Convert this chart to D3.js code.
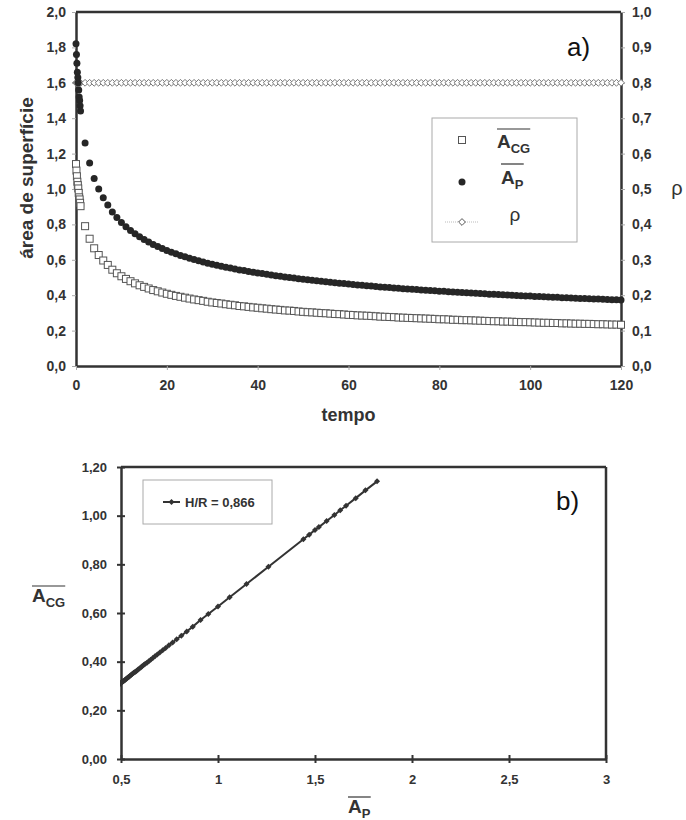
<!DOCTYPE html>
<html>
<head>
<meta charset="utf-8">
<script src="https://cdn.jsdelivr.net/npm/d3@7"></script>
<style>
  html, body { margin: 0; padding: 0; background: #fff; }
  svg { display: block; font-family: "Liberation Sans", Arial, sans-serif; }
</style>
</head>
<body>
<div id="chart"></div>
<script>
// tempo (time) values of the sampled points
const tempo = [0, 0.1, 0.2, 0.3, 0.4, 0.5, 0.6, 0.7, 0.8, 0.9, 1,
  2, 3, 4, 5, 6, 7, 8, 9, 10, 11, 12, 13, 14, 15, 16, 17, 18, 19, 20,
  21, 22, 23, 24, 25, 26, 27, 28, 29, 30, 31, 32, 33, 34, 35, 36, 37, 38, 39, 40,
  41, 42, 43, 44, 45, 46, 47, 48, 49, 50, 51, 52, 53, 54, 55, 56, 57, 58, 59, 60,
  61, 62, 63, 64, 65, 66, 67, 68, 69, 70, 71, 72, 73, 74, 75, 76, 77, 78, 79, 80,
  81, 82, 83, 84, 85, 86, 87, 88, 89, 90, 91, 92, 93, 94, 95, 96, 97, 98, 99, 100,
  101, 102, 103, 104, 105, 106, 107, 108, 109, 110, 111, 112, 113, 114, 115, 116, 117, 118, 119, 120];

// mean area A_P
const areaP = [1.82, 1.76, 1.71, 1.66, 1.63, 1.60, 1.56, 1.52, 1.50, 1.47, 1.44,
  1.26, 1.147, 1.06, 1.00, 0.95, 0.91, 0.870, 0.839, 0.811, 0.787, 0.766, 0.747, 0.730, 0.715, 0.700, 0.687, 0.675, 0.664, 0.653,
  0.643, 0.634, 0.625, 0.617, 0.609, 0.602, 0.595, 0.588, 0.581, 0.575, 0.569, 0.564, 0.558, 0.553, 0.548, 0.543, 0.539, 0.534, 0.530, 0.526,
  0.522, 0.518, 0.514, 0.510, 0.507, 0.503, 0.500, 0.497, 0.493, 0.490, 0.487, 0.484, 0.481, 0.479, 0.476, 0.473, 0.471, 0.468, 0.466, 0.463,
  0.461, 0.458, 0.456, 0.454, 0.452, 0.449, 0.447, 0.445, 0.443, 0.441, 0.439, 0.437, 0.435, 0.434, 0.432, 0.430, 0.428, 0.427, 0.425, 0.423,
  0.422, 0.420, 0.418, 0.417, 0.415, 0.414, 0.412, 0.411, 0.409, 0.408, 0.406, 0.405, 0.404, 0.402, 0.401, 0.400, 0.398, 0.397, 0.396, 0.395,
  0.393, 0.392, 0.391, 0.390, 0.389, 0.388, 0.386, 0.385, 0.384, 0.383, 0.382, 0.381, 0.380, 0.379, 0.378, 0.377, 0.376, 0.375, 0.374, 0.373];

// mean area A_CG
const areaCG = [1.141, 1.104, 1.072, 1.041, 1.022, 1.003, 0.978, 0.953, 0.941, 0.922, 0.903,
  0.790, 0.719, 0.665, 0.627, 0.596, 0.571, 0.544, 0.524, 0.507, 0.492, 0.479, 0.467, 0.456, 0.447, 0.438, 0.429, 0.422, 0.415, 0.408,
  0.402, 0.396, 0.391, 0.386, 0.381, 0.376, 0.372, 0.368, 0.363, 0.359, 0.356, 0.353, 0.349, 0.346, 0.343, 0.339, 0.337, 0.334, 0.331, 0.329,
  0.326, 0.324, 0.321, 0.319, 0.317, 0.314, 0.313, 0.311, 0.308, 0.306, 0.304, 0.303, 0.301, 0.299, 0.298, 0.296, 0.294, 0.293, 0.291, 0.289,
  0.288, 0.286, 0.285, 0.284, 0.283, 0.281, 0.279, 0.278, 0.277, 0.276, 0.274, 0.273, 0.272, 0.271, 0.270, 0.269, 0.268, 0.267, 0.266, 0.264,
  0.264, 0.263, 0.261, 0.261, 0.259, 0.259, 0.258, 0.257, 0.256, 0.255, 0.254, 0.253, 0.253, 0.251, 0.251, 0.250, 0.249, 0.248, 0.248, 0.247,
  0.246, 0.245, 0.244, 0.244, 0.243, 0.243, 0.241, 0.241, 0.240, 0.239, 0.239, 0.238, 0.238, 0.237, 0.236, 0.236, 0.235, 0.234, 0.234, 0.233];

// rho (right axis)
const rho = [0.8, 0.8, 0.8, 0.8, 0.8, 0.8, 0.8, 0.8, 0.8, 0.8, 0.8,
  0.8, 0.8, 0.8, 0.8, 0.8, 0.8, 0.8, 0.8, 0.8, 0.8, 0.8, 0.8, 0.8, 0.8, 0.8, 0.8, 0.8, 0.8, 0.8,
  0.8, 0.8, 0.8, 0.8, 0.8, 0.8, 0.8, 0.8, 0.8, 0.8, 0.8, 0.8, 0.8, 0.8, 0.8, 0.8, 0.8, 0.8, 0.8, 0.8,
  0.8, 0.8, 0.8, 0.8, 0.8, 0.8, 0.8, 0.8, 0.8, 0.8, 0.8, 0.8, 0.8, 0.8, 0.8, 0.8, 0.8, 0.8, 0.8, 0.8,
  0.8, 0.8, 0.8, 0.8, 0.8, 0.8, 0.8, 0.8, 0.8, 0.8, 0.8, 0.8, 0.8, 0.8, 0.8, 0.8, 0.8, 0.8, 0.8, 0.8,
  0.8, 0.8, 0.8, 0.8, 0.8, 0.8, 0.8, 0.8, 0.8, 0.8, 0.8, 0.8, 0.8, 0.8, 0.8, 0.8, 0.8, 0.8, 0.8, 0.8,
  0.8, 0.8, 0.8, 0.8, 0.8, 0.8, 0.8, 0.8, 0.8, 0.8, 0.8, 0.8, 0.8, 0.8, 0.8, 0.8, 0.8, 0.8, 0.8, 0.8];

const ticksLeftA = [0, 0.2, 0.4, 0.6, 0.8, 1.0, 1.2, 1.4, 1.6, 1.8, 2.0];
const ticksRightA = [0, 0.1, 0.2, 0.3, 0.4, 0.5, 0.6, 0.7, 0.8, 0.9, 1.0];
const ticksTempo = [0, 20, 40, 60, 80, 100, 120];
const ticksYB = [0, 0.2, 0.4, 0.6, 0.8, 1.0, 1.2];
const ticksXB = [0.5, 1, 1.5, 2, 2.5, 3];
const legendB = "H/R = 0,866";

const W = 686, H = 820;
const dark = "#333";
const pt = d3.formatLocale({ decimal: ",", thousands: ".", grouping: [3], currency: ["", ""] });
const f1 = pt.format(".1f"), f2 = pt.format(".2f");

const svg = d3.select("#chart").append("svg").attr("width", W).attr("height", H);

const rows = tempo.map((t, i) => ({ t: t, ap: areaP[i], acg: areaCG[i], rho: rho[i] }));

const diamond = r => `M0,${-r}L${r},0L0,${r}L${-r},0Z`;

function overlined(parent, x, y, main, sub, size, subSize, lineY, weight) {
  const t = parent.append("text").attr("x", x).attr("y", y)
    .style("font-size", size + "px").style("font-weight", weight || "bold").attr("fill", dark);
  t.append("tspan").text(main);
  t.append("tspan").attr("dy", Math.round(size * 0.25)).style("font-size", subSize + "px").text(sub);
  const b = t.node().getBBox();
  parent.append("line").attr("x1", b.x).attr("x2", b.x + b.width)
    .attr("y1", lineY).attr("y2", lineY).attr("stroke", dark).attr("stroke-width", 1.2);
}

function styleAxis(g, size, tickColor) {
  g.select(".domain").attr("stroke", dark).attr("stroke-width", 2.5);
  g.selectAll(".tick line").attr("stroke", tickColor);
  g.selectAll(".tick text").attr("fill", dark).style("font-size", size + "px").style("font-weight", "bold")
    .style("font-family", "'Liberation Sans', Arial, sans-serif");
}

// ---------- chart a) ----------
const A = { left: 76, right: 621, top: 12, bottom: 366 };
const xA = d3.scaleLinear().domain([0, 120]).range([A.left, A.right]);
const yA = d3.scaleLinear().domain([0, 2]).range([A.bottom, A.top]);
const yR = d3.scaleLinear().domain([0, 1]).range([A.bottom, A.top]);

const ga = svg.append("g");

ga.append("g").attr("transform", `translate(${A.left},0)`)
  .call(d3.axisLeft(yA).tickValues(ticksLeftA).tickFormat(f1).tickSize(4).tickSizeOuter(0).tickPadding(6))
  .call(g => styleAxis(g, 14, "#aaa"));
ga.append("g").attr("transform", `translate(${A.right},0)`)
  .call(d3.axisRight(yR).tickValues(ticksRightA).tickFormat(f1).tickSize(4).tickSizeOuter(0).tickPadding(7))
  .call(g => styleAxis(g, 14, "#aaa"));
ga.append("g").attr("transform", `translate(0,${A.bottom})`)
  .call(d3.axisBottom(xA).tickValues(ticksTempo).tickSize(4).tickSizeOuter(0).tickPadding(10))
  .call(g => styleAxis(g, 14, "#aaa"));
ga.append("line").attr("x1", A.left).attr("x2", A.right).attr("y1", A.top).attr("y2", A.top)
  .attr("stroke", dark).attr("stroke-width", 2.5);

// rho
ga.append("g").selectAll("path").data(rows).join("path")
  .attr("transform", d => `translate(${xA(d.t)},${yR(d.rho)})`)
  .attr("d", diamond(3.4)).attr("fill", "#fff").attr("stroke", "#777").attr("stroke-width", 1);
// A_CG
ga.append("g").selectAll("rect").data(rows).join("rect")
  .attr("x", d => xA(d.t) - 3.5).attr("y", d => yA(d.acg) - 3.5)
  .attr("width", 7).attr("height", 7)
  .attr("fill", "#fff").attr("stroke", "#555").attr("stroke-width", 1);
// A_P
ga.append("g").selectAll("circle").data(rows).join("circle")
  .attr("cx", d => xA(d.t)).attr("cy", d => yA(d.ap)).attr("r", 3.5)
  .attr("fill", "#262626");

// axis titles
ga.append("text").attr("x", (A.left + A.right) / 2).attr("y", 421).attr("text-anchor", "middle")
  .style("font-size", "18px").style("font-weight", "bold").attr("fill", dark).text("tempo");
ga.append("text").attr("transform", "translate(33,178) rotate(-90)").attr("text-anchor", "middle")
  .style("font-size", "19px").style("font-weight", "bold").attr("fill", dark).text("área de superfície");
ga.append("text").attr("x", 677).attr("y", 195).attr("text-anchor", "middle")
  .style("font-size", "20px").attr("fill", dark).text("ρ");
ga.append("text").attr("x", 567).attr("y", 56)
  .style("font-size", "26px").attr("fill", "#111").text("a)");

// legend a)
const la = ga.append("g");
la.append("rect").attr("x", 432).attr("y", 118).attr("width", 145).attr("height", 124)
  .attr("fill", "#fff").attr("stroke", "#aaa").attr("stroke-width", 1);
la.append("rect").attr("x", 458.5).attr("y", 136.5).attr("width", 7).attr("height", 7)
  .attr("fill", "#fff").attr("stroke", "#555");
la.append("circle").attr("cx", 462).attr("cy", 182).attr("r", 3.5).attr("fill", "#262626");
la.append("line").attr("x1", 445).attr("x2", 478).attr("y1", 222).attr("y2", 222)
  .attr("stroke", "#bbb").attr("stroke-dasharray", "1,1");
la.append("path").attr("transform", "translate(462,222)").attr("d", diamond(3.4))
  .attr("fill", "#fff").attr("stroke", "#555");
overlined(la, 497, 148, "A", "CG", 19, 13, 129);
overlined(la, 501, 184, "A", "P", 19, 13, 164);
la.append("text").attr("x", 515).attr("y", 221).attr("text-anchor", "middle")
  .style("font-size", "19px").attr("fill", dark).text("ρ");

// ---------- chart b) ----------
const B = { left: 121, right: 606, top: 467, bottom: 759 };
const xB = d3.scaleLinear().domain([0.5, 3]).range([B.left, B.right]);
const yB = d3.scaleLinear().domain([0, 1.2]).range([B.bottom, B.top]);

const gb = svg.append("g");
svg.append("defs").append("clipPath").attr("id", "clipB").append("rect")
  .attr("x", B.left - 1).attr("y", B.top).attr("width", B.right - B.left + 1).attr("height", B.bottom - B.top);

gb.append("g").attr("transform", `translate(${B.left},0)`)
  .call(d3.axisLeft(yB).tickValues(ticksYB).tickFormat(f2).tickSize(4).tickSizeOuter(0).tickPadding(10))
  .call(g => styleAxis(g, 13, dark))
  .call(g => g.selectAll(".tick line").attr("x2", 4).attr("x1", -4).attr("stroke-width", 2));
gb.append("g").attr("transform", `translate(0,${B.bottom})`)
  .call(d3.axisBottom(xB).tickValues(ticksXB).tickFormat(d => d % 1 ? f1(d) : d).tickSize(4).tickSizeOuter(0).tickPadding(12))
  .call(g => styleAxis(g, 13, dark))
  .call(g => g.selectAll(".tick line").attr("y1", -4).attr("y2", 4).attr("stroke-width", 2));
gb.append("line").attr("x1", B.left).attr("x2", B.right).attr("y1", B.top).attr("y2", B.top)
  .attr("stroke", dark).attr("stroke-width", 2.5);
gb.append("line").attr("x1", B.right).attr("x2", B.right).attr("y1", B.top).attr("y2", B.bottom)
  .attr("stroke", dark).attr("stroke-width", 2.5);

const plotB = gb.append("g").attr("clip-path", "url(#clipB)");
plotB.append("path").datum(rows)
  .attr("d", d3.line().x(d => xB(d.ap)).y(d => yB(d.acg)))
  .attr("fill", "none").attr("stroke", dark).attr("stroke-width", 2);
plotB.append("g").selectAll("path").data(rows).join("path")
  .attr("transform", d => `translate(${xB(d.ap)},${yB(d.acg)})`)
  .attr("d", diamond(3)).attr("fill", dark);

// legend b)
const lb = gb.append("g");
lb.append("rect").attr("x", 143).attr("y", 480).attr("width", 129).attr("height", 44)
  .attr("fill", "#fff").attr("stroke", "#aaa").attr("stroke-width", 1);
lb.append("line").attr("x1", 163).attr("x2", 180).attr("y1", 502).attr("y2", 502)
  .attr("stroke", dark).attr("stroke-width", 2);
lb.append("path").attr("transform", "translate(171.5,502)").attr("d", diamond(3)).attr("fill", dark);
lb.append("text").attr("x", 185).attr("y", 507)
  .style("font-size", "13px").style("font-weight", "bold").attr("fill", dark).text(legendB);

gb.append("text").attr("x", 556).attr("y", 510)
  .style("font-size", "26px").attr("fill", "#111").text("b)");

overlined(gb, 32, 602, "A", "CG", 19, 13, 586);
overlined(gb, 348, 813, "A", "P", 19, 13, 797);
</script>
</body>
</html>
